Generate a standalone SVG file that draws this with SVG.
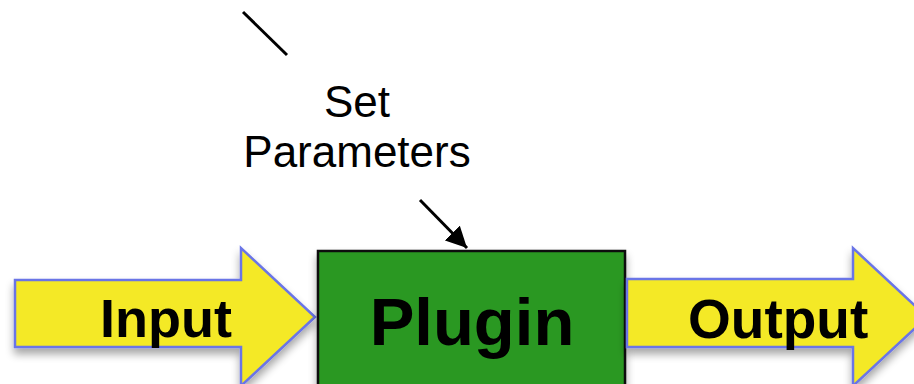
<svg xmlns="http://www.w3.org/2000/svg" width="914" height="384" viewBox="0 0 914 384">
  <defs>
    <filter id="shadow" x="-20%" y="-20%" width="140%" height="160%">
      <feGaussianBlur in="SourceAlpha" stdDeviation="4"/>
      <feOffset dx="0" dy="6" result="b"/>
      <feComponentTransfer><feFuncA type="linear" slope="0.35"/></feComponentTransfer>
      <feMerge><feMergeNode/><feMergeNode in="SourceGraphic"/></feMerge>
    </filter>
    <marker id="head" viewBox="0 0 10 10" refX="10" refY="5" markerWidth="7" markerHeight="7" markerUnits="strokeWidth" orient="auto">
      <path d="M0,0 L10,5 L0,10 z" fill="#000"/>
    </marker>
    <style>
      .flow { fill: #f4e925; stroke: #6a74e6; stroke-width: 2.5; stroke-linejoin: miter; }
      .box { fill: #2a9822; stroke: #111; stroke-width: 2.5; }
      .big { font-family: "Liberation Sans", Arial, sans-serif; font-weight: bold; fill: #000; }
      .lbl { font-family: "Liberation Sans", Arial, sans-serif; font-size: 44px; fill: #000; text-anchor: middle; }
      .wire { stroke: #000; stroke-width: 3; fill: none; }
    </style>
  </defs>

  <g id="connectors">
    <line class="wire" x1="243" y1="12" x2="287" y2="55"/>
    <line class="wire" x1="420" y1="200" x2="467" y2="248" marker-end="url(#head)"/>
  </g>

  <g id="input">
    <path class="flow" filter="url(#shadow)" d="M15,280 L241,280 L241,248 L315,317 L241,386 L241,347 L15,347 Z"/>
    <text class="big" x="100" y="337" font-size="54">Input</text>
  </g>

  <g id="plugin">
    <rect class="box" filter="url(#shadow)" x="318" y="251" width="307" height="160"/>
    <text class="big" x="472" y="345" font-size="67" text-anchor="middle">Plugin</text>
  </g>

  <g id="output">
    <path class="flow" filter="url(#shadow)" d="M627,279 L853,279 L853,248 L927,317 L853,386 L853,347 L627,347 Z"/>
    <text class="big" x="688" y="338" font-size="55">Output</text>
  </g>

  <g id="set-parameters">
    <text class="lbl" x="357" y="117">Set</text>
    <text class="lbl" x="357" y="167">Parameters</text>
  </g>
</svg>
